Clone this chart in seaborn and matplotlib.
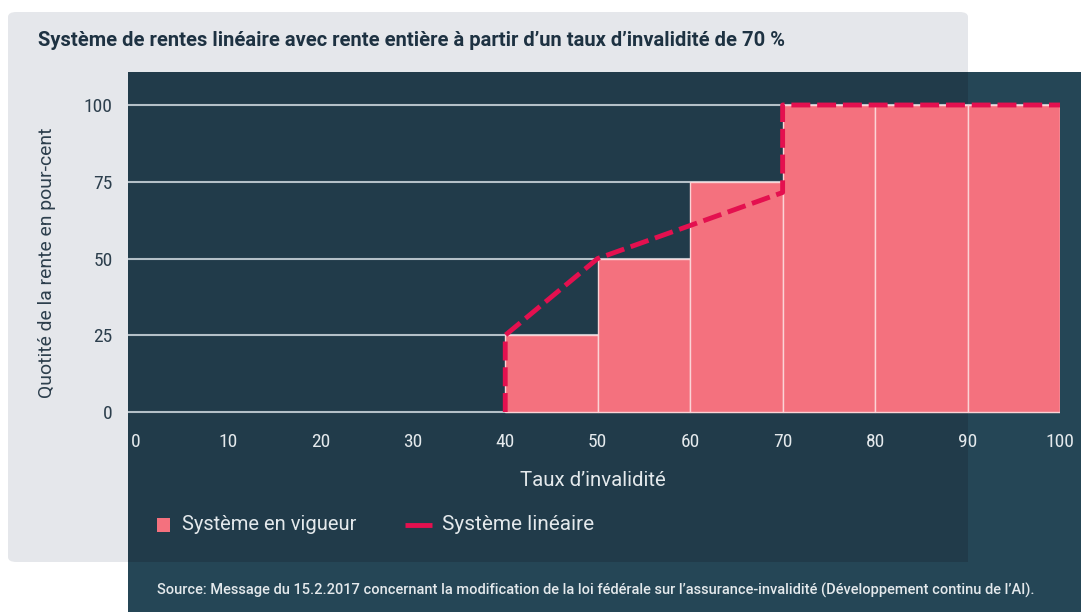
import matplotlib
matplotlib.use("Agg")
import matplotlib.pyplot as plt
import seaborn as sns
import pandas as pd
from matplotlib.patches import Rectangle, FancyBboxPatch
from matplotlib.lines import Line2D

# ---- data ----
bar_centers = [45, 55, 65, 75, 85, 95]          # classes of invalidity rate
bar_values = [25, 50, 75, 100, 100, 100]        # current system (Système en vigueur)
line_x = [40, 40, 50, 70, 70, 100]              # linear system breakpoints
line_y = [0, 25, 50, 71.5, 100, 100]
x_ticks = [0, 10, 20, 30, 40, 50, 60, 70, 80, 90, 100]
y_ticks = [0, 25, 50, 75, 100]

title = "Système de rentes linéaire avec rente entière à partir d\u2019un taux d\u2019invalidité de 70\u202f%"
xlabel = "Taux d\u2019invalidité"
ylabel = "Quotité de la rente en pour-cent"
legend_labels = ["Système en vigueur", "Système linéaire"]
source = ("Source: Message du 15.2.2017 concernant la modification de la loi fédérale sur "
          "l\u2019assurance-invalidité (Développement continu de l\u2019AI).")

# ---- style ----
sns.set_theme(style="white")
TXT_FONT = ['Roboto', 'DejaVu Sans']
TICK_FONT = ['Roboto Condensed', 'Roboto', 'DejaVu Sans']
plt.rcParams['font.family'] = TXT_FONT

W, H = 1081, 612
fig = plt.figure(figsize=(W / 100, H / 100), dpi=100, facecolor="white")

def fx(px):
    return px / W

def fy(py):
    return 1 - py / H

GRAY_BG = "#e5e7eb"
DARK = "#213b4a"
DARK2 = "#254656"
BAR = "#f4717e"
LINE = "#e4104f"
LIGHT = "#e4e9ec"
NAVY = "#1e3242"
GREYTXT = "#2d3f4d"

# background shapes (figure coordinates)
fig.patches.append(Rectangle((fx(128), fy(612)), fx(1081) - fx(128), fy(72) - fy(612),
                             transform=fig.transFigure, facecolor=DARK2, edgecolor="none", zorder=-3))
fig.patches.append(FancyBboxPatch((fx(8), fy(562)), fx(968) - fx(8), fy(12) - fy(562),
                                  boxstyle="round,pad=0,rounding_size=0.008",
                                  transform=fig.transFigure, facecolor=GRAY_BG, edgecolor="none", zorder=-2))
fig.patches.append(Rectangle((fx(128), fy(562)), fx(968) - fx(128), fy(72) - fy(562),
                             transform=fig.transFigure, facecolor=DARK, edgecolor="none", zorder=-1))

# axes
ylo, yhi = -1.5, 101.5
ppu_y = (412 - 105) / 100
top_px = 105 - (yhi - 100) * ppu_y
bot_px = 412 + (0 - ylo) * ppu_y
xlo = -0.8
left_px = 128
right_px = 1060
ax = fig.add_axes([fx(left_px), fy(bot_px), fx(right_px) - fx(left_px), fy(top_px) - fy(bot_px)])
ax.set_zorder(5)
ax.set_facecolor("none")
ax.patch.set_alpha(0)

for yv in y_ticks:
    ax.axhline(yv, color="#b4c0c8", lw=1.5, zorder=1)

df_bars = pd.DataFrame({"x": bar_centers, "y": bar_values})
sns.barplot(data=df_bars, x="x", y="y", native_scale=True, width=1.0,
            color=BAR, saturation=1, edgecolor="#fbd3d6", linewidth=1.0, ax=ax, zorder=2)

df_line = pd.DataFrame({"x": line_x, "y": line_y})
sns.lineplot(data=df_line, x="x", y="y", sort=False, estimator=None, color=LINE,
             lw=3.5, ax=ax, zorder=3)
for ln in ax.lines[-1:]:
    ln.set_linestyle((0, (3.9, 1.4)))
    ln.set_clip_on(False)
    ln.set_dash_capstyle("butt")

ax.set_xlim(xlo, 100)
ax.set_ylim(ylo, yhi)
for s in ax.spines.values():
    s.set_visible(False)

ax.set_xticks(x_ticks)
ax.set_xticklabels([str(v) for v in x_ticks], family=TICK_FONT)
ax.set_yticks(y_ticks)
ax.set_yticklabels([str(v) for v in y_ticks], family=TICK_FONT)
ax.tick_params(axis="x", length=0, pad=12, labelsize=14, labelcolor=LIGHT)
ax.tick_params(axis="y", length=0, pad=11, labelsize=14, labelcolor=GREYTXT)
ax.set_xlabel("")
ax.set_ylabel("")

texts = []
def add_text(x, y, s, target_w, **kw):
    t = fig.text(fx(x), fy(y), s, **kw)
    texts.append((t, target_w))
    return t

add_text(38, 40, title, 745, fontsize=14, fontweight="bold", color=NAVY, ha="left", va="center")
add_text(47, 263, ylabel, 272, fontsize=13, color=GREYTXT, rotation=90, ha="center", va="center")
add_text(593, 481, xlabel, 145, fontsize=13, color=LIGHT, ha="center", va="center")
add_text(157, 590, source, 870, fontsize=10, fontweight="medium", color=LIGHT, ha="left", va="center")
add_text(182, 525, legend_labels[0], 175, fontsize=13, color=LIGHT, ha="left", va="center")
add_text(442, 525, legend_labels[1], 151, fontsize=13, color=LIGHT, ha="left", va="center")

# legend handles
fig.patches.append(Rectangle((fx(157), fy(532)), fx(170) - fx(157), fy(518) - fy(532),
                             transform=fig.transFigure, facecolor=BAR, edgecolor="none", zorder=6))
fig.lines.append(Line2D([fx(405), fx(432)], [fy(525), fy(525)], transform=fig.transFigure,
                        color=LINE, lw=3.5, solid_capstyle="butt", zorder=6))

# fit text widths to the reference layout
renderer = fig.canvas.get_renderer()
for _ in range(3):
    for t, target in texts:
        bb = t.get_window_extent(renderer)
        w = bb.height if t.get_rotation() in (90, 270) else bb.width
        t.set_fontsize(t.get_fontsize() * target / w)

fig.savefig("out.png", dpi=100, facecolor="white")
